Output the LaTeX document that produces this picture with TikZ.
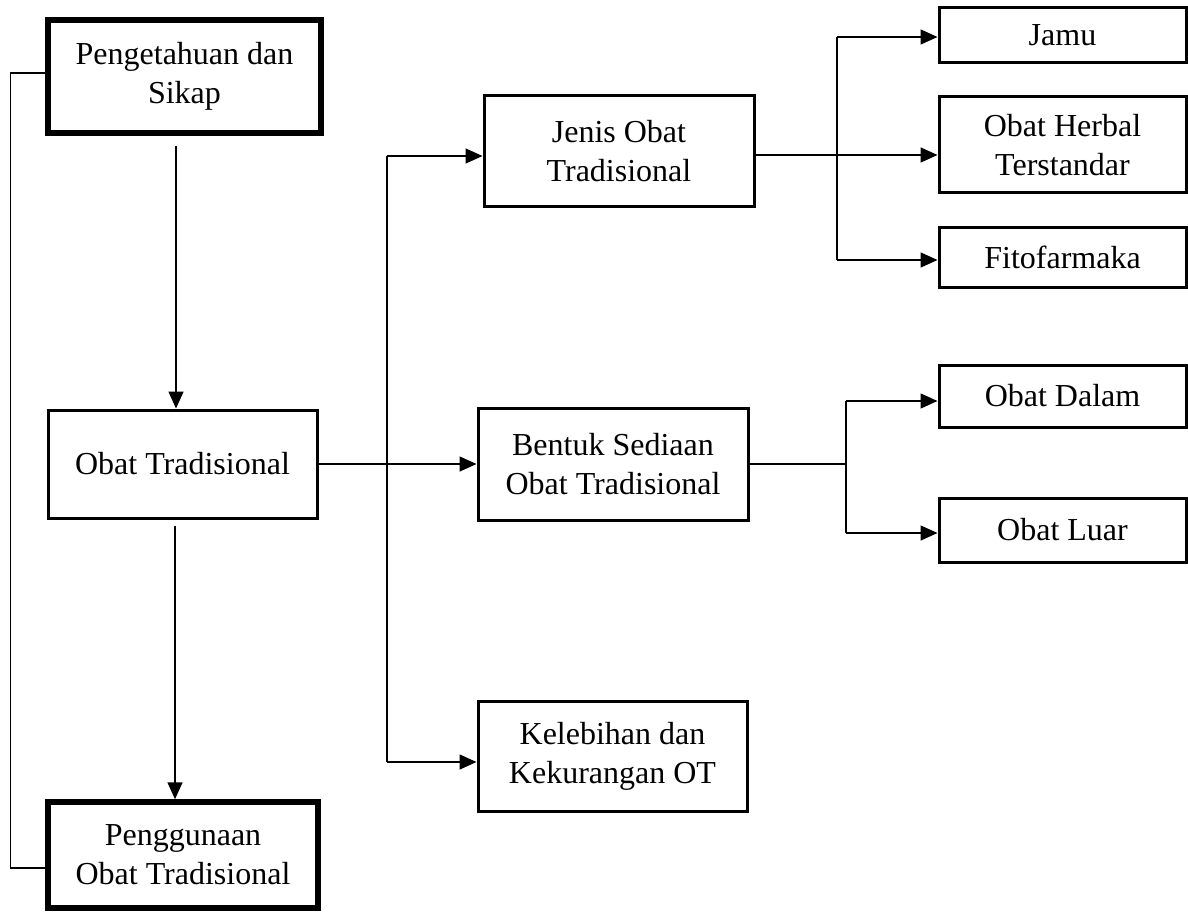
\documentclass[tikz,border=0pt]{standalone}
\usepackage{fontspec}
\setmainfont{Liberation Serif}
\usetikzlibrary{arrows.meta}
\begin{document}
\begin{tikzpicture}[x=1pt,y=-1pt,
  box/.style={draw, line width=3pt, align=center, inner sep=0pt,
    font=\fontsize{32}{39}\selectfont},
  thick box/.style={box, line width=5.5pt},
  conn/.style={line width=1.5pt},
  arr/.style={conn, -{Triangle[length=17pt,width=15pt]}}]
\useasboundingbox (0,0) rectangle (1188,912);
% left column
\node[thick box, minimum width=273pt, minimum height=113pt] (b1) at (184.5,76.5) {Pengetahuan dan\\Sikap};
\node[box, minimum width=269pt, minimum height=108pt] (b2) at (182.5,464) {Obat Tradisional};
\node[thick box, minimum width=270pt, minimum height=106pt] (b4) at (183,855) {Penggunaan\\Obat Tradisional};
% middle column
\node[box, minimum width=270pt, minimum height=111pt] (jenis) at (619,151.5) {Jenis Obat\\Tradisional};
\node[box, minimum width=270pt, minimum height=112pt] (bentuk) at (613,464) {Bentuk Sediaan\\Obat Tradisional};
\node[box, minimum width=269pt, minimum height=110pt] (kel) at (612.5,756) {Kelebihan dan\\Kekurangan OT};
% right column
\node[box, minimum width=247pt, minimum height=55pt] (jamu) at (1062.5,35.5) {Jamu};
\node[box, minimum width=247pt, minimum height=96pt] (herbal) at (1062.5,145) {Obat Herbal\\Terstandar};
\node[box, minimum width=247pt, minimum height=60pt] (fito) at (1062.5,257) {Fitofarmaka};
\node[box, minimum width=247pt, minimum height=62pt] (dalam) at (1062.5,396) {Obat Dalam};
\node[box, minimum width=247pt, minimum height=64pt] (luar) at (1062.5,530) {Obat Luar};
% left bracket
\draw[conn] ([yshift=3.5pt]b1.west) -- ++(-35,0) |- ([yshift=-13pt]b4.west);
% vertical arrows
\draw[arr] ([xshift=-8.5pt,yshift=-10pt]b1.south) -- ([xshift=-8.5pt]b1.south |- b2.north);
\draw[arr] ([xshift=-7.5pt,yshift=-6pt]b2.south) -- ([xshift=-7.5pt]b2.south |- b4.north);
% trunk
\coordinate (t1) at (387,156);
\coordinate (t2) at (387,762);
\draw[conn] (t1) -- (t2);
\draw[arr] (t1) -- (t1 -| jenis.west);
\draw[arr] (t2) -- (t2 -| kel.west);
\draw[arr] (b2.east) -- (b2.east -| bentuk.west);
% jenis branch
\coordinate (j1) at (837,37);
\coordinate (j2) at (837,260);
\draw[conn] (j1) -- (j2);
\draw[arr] (j1) -- (j1 -| jamu.west);
\draw[arr] (j2) -- (j2 -| fito.west);
\draw[arr] ([yshift=-3.5pt]jenis.east) -- ([yshift=-3.5pt]jenis.east -| herbal.west);
% bentuk branch
\coordinate (d1) at (846,401);
\coordinate (d2) at (846,533);
\draw[conn] (d1) -- (d2);
\draw[arr] (d1) -- (d1 -| dalam.west);
\draw[arr] (d2) -- (d2 -| luar.west);
\draw[conn] (bentuk.east) -- (bentuk.east -| d1);
\end{tikzpicture}
\end{document}
